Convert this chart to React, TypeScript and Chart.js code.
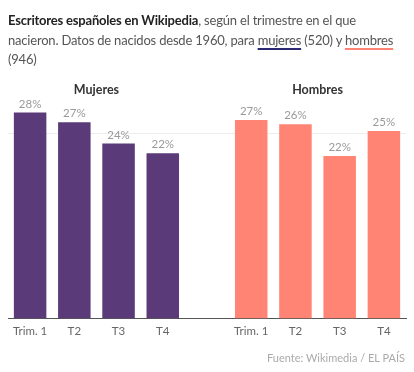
import React, { useEffect, useRef } from "react";
import { Chart, registerables } from "chart.js";

Chart.register(...registerables);

const categories = ["Trim. 1", "T2", "T3", "T4", "", "Trim. 1", "T2", "T3", "T4"];
const mujeres = [27.9, 26.6, 23.7, 22.4];
const hombres = [26.9, 26.3, 22.0, 25.4];
const groupTitles = ["Mujeres", "Hombres"];
const yTicks = [0, 25];

const PURPLE = "#5a3a78";
const SALMON = "#ff8473";
const FONT = "Lato, 'Open Sans', sans-serif";

const overlayPlugin = {
  id: "overlay",
  afterDatasetsDraw(chart: any) {
    const ctx = chart.ctx;
    const meta = chart.getDatasetMeta(0);
    const data = chart.data.datasets[0].data;
    ctx.save();
    ctx.font = `11.5px ${FONT}`;
    ctx.fillStyle = "#9a9a9a";
    ctx.textAlign = "center";
    ctx.textBaseline = "alphabetic";
    meta.data.forEach((bar: any, i: number) => {
      const v = data[i];
      if (v == null) return;
      ctx.fillText(Math.round(v) + "%", bar.x, bar.y - 5);
    });
    const xs = chart.scales.x;
    ctx.font = `bold 12.5px ${FONT}`;
    ctx.fillStyle = "#333";
    [[0, 3], [5, 8]].forEach(([a, b], g) => {
      const cx = (xs.getPixelForValue(a) + xs.getPixelForValue(b)) / 2;
      ctx.fillText(groupTitles[g], cx, 93.5);
    });
    ctx.restore();
  },
};

export default function App() {
  const ref = useRef<HTMLCanvasElement>(null);
  useEffect(() => {
    if (!ref.current) return;
    const values = [...mujeres, null, ...hombres];
    const colors = [...mujeres.map(() => PURPLE), "transparent", ...hombres.map(() => SALMON)];
    const chart = new Chart(ref.current, {
      type: "bar",
      data: {
        labels: categories,
        datasets: [
          {
            data: values as any,
            backgroundColor: colors,
            categoryPercentage: 1,
            barPercentage: 0.735,
          },
        ],
      },
      options: {
        animation: false,
        responsive: false,
        layout: { padding: { top: 97, bottom: 27.5, left: 8, right: 8 } },
        plugins: { legend: { display: false }, tooltip: { enabled: false } },
        scales: {
          x: {
            grid: { display: false, drawTicks: false },
            border: { display: true, color: "#555", width: 1 },
            ticks: { color: "#666", font: { family: FONT, size: 11.5 }, padding: 6 },
          },
          y: {
            min: 0,
            max: 30,
            afterBuildTicks: (axis: any) => {
              axis.ticks = yTicks.map((v) => ({ value: v }));
            },
            ticks: { display: false },
            border: { display: false },
            grid: {
              drawTicks: false,
              color: (c: any) => (c.tick && c.tick.value === 25 ? "#ececec" : "transparent"),
            },
          },
        },
      },
      plugins: [overlayPlugin],
    });
    return () => chart.destroy();
  }, []);

  return (
    <div style={{ position: "absolute", left: 0, top: 0, width: 414, height: 372, fontFamily: FONT }}>
      <canvas ref={ref} width={414} height={372} style={{ position: "absolute", left: 0, top: 0 }} />
      <div
        style={{
          position: "absolute",
          left: 8,
          top: 11,
          width: 400,
          fontSize: 13,
          letterSpacing: "-0.2px",
          lineHeight: "19.5px",
          color: "#555",
          whiteSpace: "nowrap",
        }}
      >
        <b style={{ color: "#222", fontWeight: 700 }}>Escritores españoles en Wikipedia</b>, según el trimestre en el que
        <br />
        nacieron. Datos de nacidos desde 1960, para{" "}
        <span style={{ textDecoration: "underline", textDecorationColor: "#2b2a72", textDecorationThickness: 2, textUnderlineOffset: 3 }}>
          mujeres
        </span>{" "}
        (520) y{" "}
        <span style={{ textDecoration: "underline", textDecorationColor: SALMON, textDecorationThickness: 2, textUnderlineOffset: 3 }}>
          hombres
        </span>
        <br />
        (946)
      </div>
      <div
        style={{
          position: "absolute",
          right: 9,
          top: 351,
          fontSize: 11,
          lineHeight: "14px",
          color: "#aaa",
        }}
      >
        Fuente: Wikimedia / EL PAÍS
      </div>
    </div>
  );
}
